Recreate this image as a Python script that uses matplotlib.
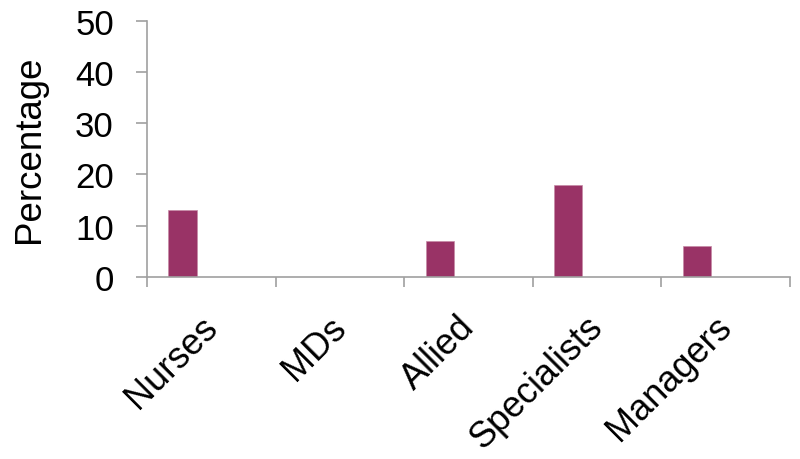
import matplotlib
matplotlib.use("Agg")
import matplotlib.pyplot as plt
import numpy as np

categories = ["Nurses", "MDs", "Allied", "Specialists", "Managers"]
percentages = [13, 0, 7, 18, 6]
y_ticks = [0, 10, 20, 30, 40, 50]

plt.rcParams["font.family"] = ["Liberation Sans", "DejaVu Sans"]

fig = plt.figure(figsize=(8, 4.6), dpi=100)
ax = fig.add_axes([0.184, 0.3957, 0.8035, 0.5573])

x = np.arange(len(categories))
ax.bar(x - 0.225, percentages, width=0.22, color="#993366",
       edgecolor="#c68aa6", linewidth=0.5, zorder=2)

ax.set_xlim(-0.5, len(categories) - 0.5)
ax.set_ylim(0, 50)
ax.set_yticks(y_ticks)
ax.set_yticklabels([str(v) for v in y_ticks])

# slanted category labels hang from just left of each slot centre;
# the visible tick marks sit on the slot boundaries
ax.set_xticks(x - 0.09)
ax.set_xticklabels(categories, rotation=45, ha="right", va="top",
                   rotation_mode="anchor")
ax.set_xticks(np.arange(-0.5, len(categories)), minor=True)

axis_grey = "#a0a0a0"
for side in ("top", "right"):
    ax.spines[side].set_visible(False)
for side in ("left", "bottom"):
    ax.spines[side].set_color(axis_grey)
    ax.spines[side].set_linewidth(1.2)

ax.tick_params(axis="y", direction="out", length=8, width=1.2,
               color=axis_grey, labelsize=25, pad=16)
ax.tick_params(axis="x", which="major", length=0, labelsize=26, pad=23)
ax.tick_params(axis="x", which="minor", direction="out", length=7,
               width=1.2, color=axis_grey)

ax.set_ylabel("Percentage", fontsize=26.5)
ax.yaxis.set_label_coords(-0.1555, 0.503)

fig.savefig("out.png", dpi=100, facecolor="white")
